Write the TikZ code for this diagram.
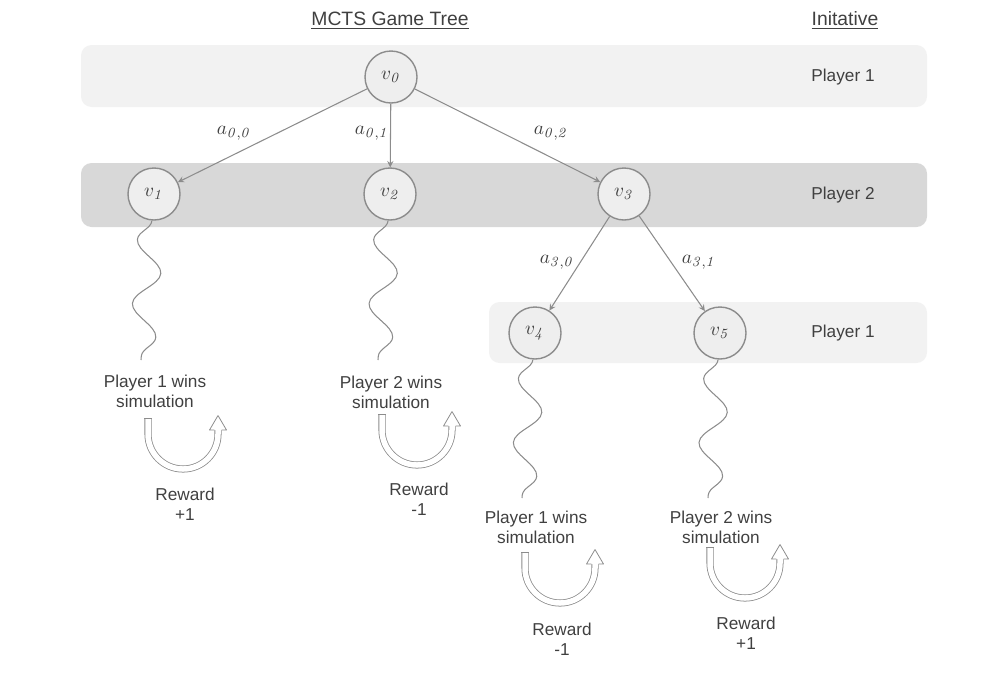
\documentclass[tikz,border=0pt]{standalone}
\usepackage[no-math]{fontspec}
\setmainfont{Liberation Sans}
\usepackage{tikz}
\usetikzlibrary{decorations.pathmorphing}
\definecolor{bandlight}{HTML}{F2F2F2}
\definecolor{banddark}{HTML}{D8D8D8}
\definecolor{nodefill}{HTML}{EEEEEE}
\definecolor{linegray}{HTML}{8C8C8C}
\definecolor{textgray}{HTML}{404040}
\tikzset{
	lightstyle/.style={fill=bandlight,rounded corners=6pt},
	darkstyle/.style={fill=banddark,rounded corners=6pt},
	statestyle/.style={circle,draw=linegray,fill=nodefill,line width=0.8pt,minimum size=1.04cm,inner sep=0pt,text=textgray,font=\fontsize{11}{13}\selectfont},
	textstyle/.style={align=center,text=textgray,font=\fontsize{9.8}{11.3}\selectfont},
	headstyle/.style={text=textgray,font=\fontsize{11}{13}\selectfont},
	actionstyle/.style={text=textgray,font=\fontsize{11}{13}\selectfont},
	edgestyle/.style={draw=linegray,line width=0.6pt,-stealth},
	wavestyle/.style={draw=linegray,line width=0.6pt,decorate,decoration={snake,segment length=1.28cm,amplitude=0.26cm,mirror}},
	rewardarrow/.pic={
		\draw[linegray,line width=0.45pt,double=white,double distance=1.1mm] (-0.7,0.32) -- (-0.7,0) arc[start angle=180,end angle=360,radius=0.7] -- (0.7,0.08);
		\draw[linegray,line width=0.45pt] (-0.771,0.32) -- (-0.629,0.32);
		\fill[white] (0.53,0.08) -- (0.7,0.37) -- (0.87,0.08) -- cycle;
		\draw[linegray,line width=0.45pt,line join=round] (0.629,0.08) -- (0.53,0.08) -- (0.7,0.37) -- (0.87,0.08) -- (0.771,0.08);
	}
}

\begin{document}
\begin{tikzpicture}
	\useasboundingbox (0,0) rectangle (19.9,-13.9);
	% player bands
	\fill[lightstyle] (1.62,-0.9) rectangle (18.54,-2.14);
	\fill[darkstyle] (1.62,-3.26) rectangle (18.54,-4.54);
	\fill[lightstyle] (9.78,-6.04) rectangle (18.54,-7.26);
	\node[headstyle] (title) at (7.8,-0.41) {\underline{MCTS Game Tree}};
	\node[headstyle] (init) at (16.9,-0.41) {\underline{Initative}};
	\node[textstyle] (p0) at (16.86,-1.54) {Player 1};
	\node[textstyle] (p1) at (16.86,-3.9) {Player 2};
	\node[textstyle] (p2) at (16.86,-6.66) {Player 1};
	% tree
	\node[statestyle] (v0) at (7.82,-1.54) {$v_{\mathit{0}}$};
	\node[statestyle] (v1) at (3.08,-3.88) {$v_{\mathit{1}}$};
	\node[statestyle] (v2) at (7.8,-3.88) {$v_{\mathit{2}}$};
	\node[statestyle] (v3) at (12.48,-3.88) {$v_{\mathit{3}}$};
	\node[statestyle] (v4) at (10.7,-6.66) {$v_{\mathit{4}}$};
	\node[statestyle] (v5) at (14.4,-6.66) {$v_{\mathit{5}}$};
	\draw[edgestyle] (v0)--(v1);
	\draw[edgestyle] (v0)--(v2);
	\draw[edgestyle] (v0)--(v3);
	\draw[edgestyle] (v3)--(v4);
	\draw[edgestyle] (v3)--(v5);
	\node[actionstyle] (a00) at (4.68,-2.66) {$a_{\mathit{0{,}0}}$};
	\node[actionstyle] (a01) at (7.44,-2.66) {$a_{\mathit{0{,}1}}$};
	\node[actionstyle] (a02) at (11.02,-2.66) {$a_{\mathit{0{,}2}}$};
	\node[actionstyle] (a30) at (11.14,-5.24) {$a_{\mathit{3{,}0}}$};
	\node[actionstyle] (a31) at (13.98,-5.24) {$a_{\mathit{3{,}1}}$};
	% simulations
	\coordinate (e1) at (2.82,-7.2);
	\coordinate (e2) at (7.56,-7.2);
	\coordinate (e4) at (10.44,-9.96);
	\coordinate (e5) at (14.16,-9.96);
	\draw[wavestyle] (v1)--(e1);
	\draw[wavestyle] (v2)--(e2);
	\draw[wavestyle] (v4)--(e4);
	\draw[wavestyle] (v5)--(e5);
	\node[textstyle] (w1) at (3.1,-7.82) {Player 1 wins\\simulation};
	\node[textstyle] (w2) at (7.82,-7.84) {Player 2 wins\\simulation};
	\node[textstyle] (w4) at (10.72,-10.54) {Player 1 wins\\simulation};
	\node[textstyle] (w5) at (14.42,-10.54) {Player 2 wins\\simulation};
	% rewards
	\pic at (3.66,-8.68) {rewardarrow};
	\pic at (8.34,-8.6) {rewardarrow};
	\pic at (11.2,-11.36) {rewardarrow};
	\pic at (14.9,-11.26) {rewardarrow};
	\node[textstyle] (r1) at (3.7,-10.08) {Reward\\+1};
	\node[textstyle] (r2) at (8.38,-9.98) {Reward\\-1};
	\node[textstyle] (r4) at (11.24,-12.78) {Reward\\-1};
	\node[textstyle] (r5) at (14.92,-12.66) {Reward\\+1};
\end{tikzpicture}
\end{document}
